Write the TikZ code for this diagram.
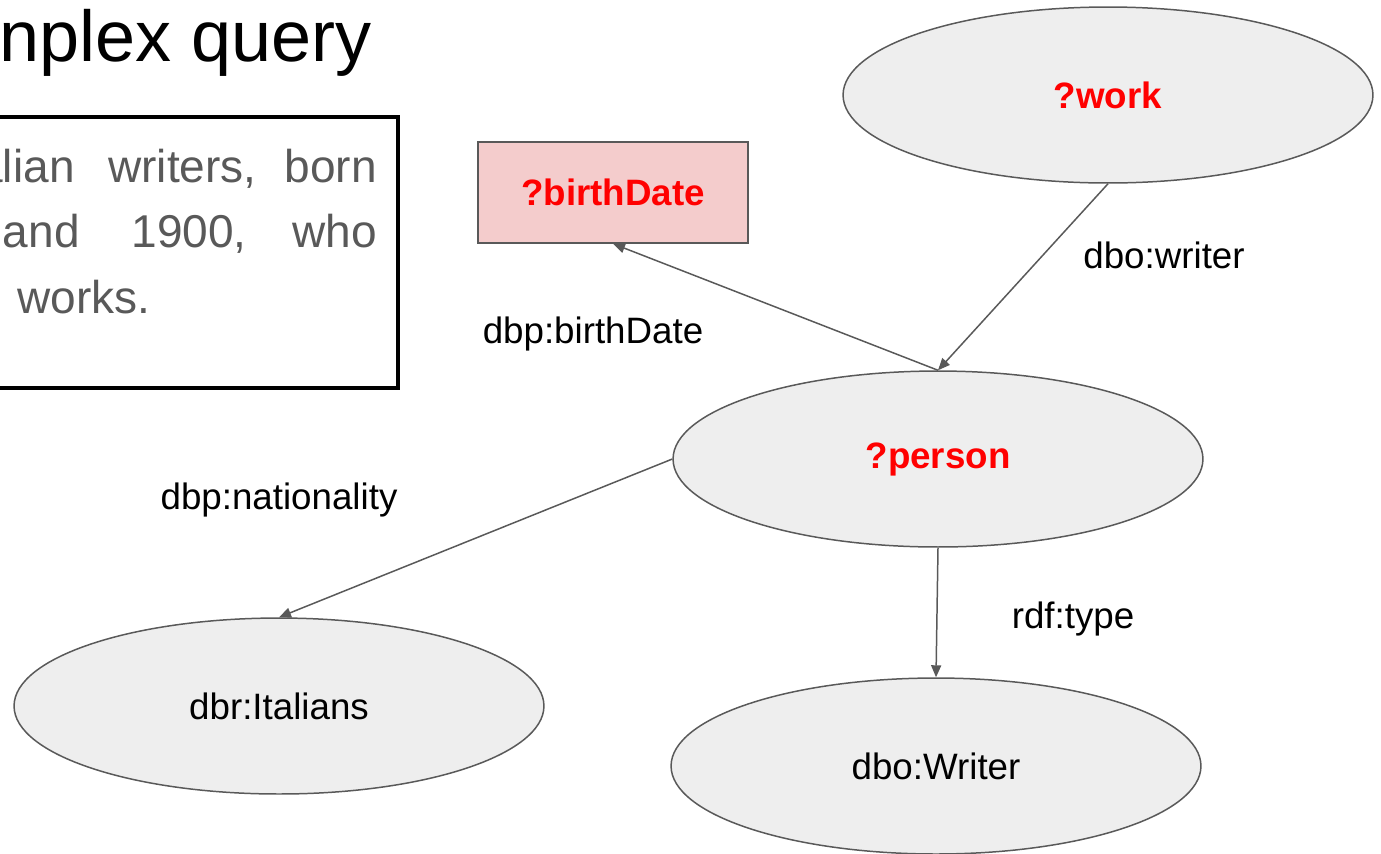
\documentclass[tikz,border=0pt]{standalone}
\usepackage{fontspec}
\setmainfont{Liberation Sans}
\usepackage{xcolor}
\usetikzlibrary{shapes.geometric, arrows.meta, positioning}

\definecolor{edgegray}{HTML}{595959}
\definecolor{nodefill}{HTML}{EEEEEE}
\definecolor{datefill}{HTML}{F4CCCC}
\definecolor{varred}{HTML}{FF0000}

\begin{document}
\begin{tikzpicture}[
        x=0.02cm, y=-0.02cm,
        resource/.style={ellipse, draw=edgegray, fill=nodefill, line width=0.85pt, minimum width=10.6cm, minimum height=3.52cm, inner sep=0pt, font=\fontsize{20.9}{25}\selectfont},
        varnode/.style={resource, font=\fontsize{20.9}{25}\selectfont\bfseries, text=varred},
        literal/.style={rectangle, draw=edgegray, fill=datefill, line width=0.85pt, minimum width=5.4cm, minimum height=2.02cm, inner sep=0pt, font=\fontsize{20.9}{25}\selectfont\bfseries, text=varred},
        predicate/.style={anchor=base, inner sep=0pt, font=\fontsize{20.9}{25}\selectfont},
        question/.style={anchor=base east, inner sep=0pt, text=edgegray, font=\fontsize{26.2}{31}\selectfont},
        arrow/.style={-{Triangle[length=0.24cm, width=0.2cm]}, line width=0.85pt, color=edgegray}
    ]
    \useasboundingbox (0,0) rectangle (1381,853);

    % Title and question box (cut at the left edge)
    \begin{scope}
        \clip (0,0) rectangle (1381,853);
        \node[anchor=base east, inner sep=0pt, font=\fontsize{41}{48}\selectfont] (title) at (372,61) {nplex query};
        \draw[line width=2.3pt] (-20,117) rectangle (398,388);
        \node[question] (q_a) at (75,182) {alian};
        \node[question] (q_b) at (257,182) {writers,};
        \node[question] (q_c) at (377,182) {born};
        \node[question] (q_d) at (80,247) {and};
        \node[question] (q_e) at (247,247) {1900,};
        \node[question] (q_f) at (377,247) {who};
        \node[question, anchor=base west] (q_g) at (17,313) {works.};
    \end{scope}

    % Graph nodes
    \node[varnode] (work) at (1108,95) {?work};
    \node[literal] (birthdate) at (613,192.5) {?birthDate};
    \node[varnode] (person) at (938,459) {?person};
    \node[resource] (italians) at (279,706) {dbr:Italians};
    \node[resource] (writer) at (936,766) {dbo:Writer};

    % Predicates
    \node[predicate] (writer_label) at (1164,268) {dbo:writer};
    \node[predicate] (birth_label) at (593,343) {dbp:birthDate};
    \node[predicate] (nation_label) at (279,509) {dbp:nationality};
    \node[predicate] (type_label) at (1073,628) {rdf:type};

    % Edges
    \draw[arrow] (work.south) -- (person.north);
    \draw[arrow] (person.north) -- (birthdate.south);
    \draw[arrow] (person.west) -- (italians.north);
    \draw[arrow] (person.south) -- (writer.north);

\end{tikzpicture}
\end{document}
